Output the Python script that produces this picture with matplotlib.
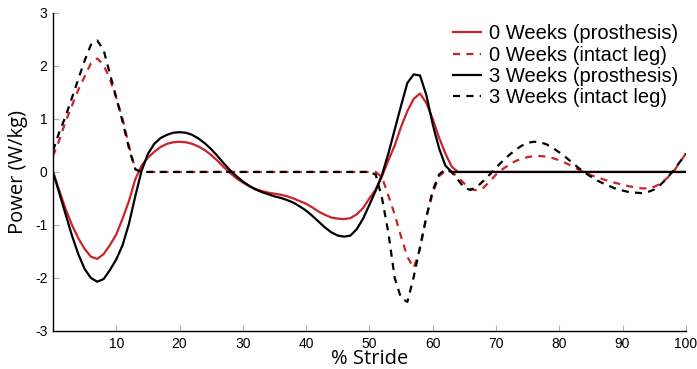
import matplotlib
matplotlib.use("Agg")
import matplotlib.pyplot as plt

stride = list(range(0, 101))

w0_prosthesis = [0, -0.35, -0.7, -1.0, -1.25, -1.45, -1.6, -1.64, -1.55, -1.38,
                 -1.18, -0.88, -0.55, -0.14, 0.12, 0.27, 0.38, 0.47, 0.53, 0.56,
                 0.57, 0.56, 0.53, 0.48, 0.41, 0.32, 0.21, 0.09, -0.02, -0.12,
                 -0.2, -0.27, -0.32, -0.36, -0.39, -0.41, -0.43, -0.46, -0.5, -0.55,
                 -0.6, -0.67, -0.75, -0.81, -0.86, -0.88, -0.89, -0.87, -0.8, -0.68,
                 -0.5, -0.33, -0.08, 0.22, 0.5, 0.85, 1.15, 1.38, 1.48, 1.3,
                 1.0, 0.65, 0.35, 0.1, 0.0] + [0.0] * 36

w3_prosthesis = [0, -0.4, -0.8, -1.2, -1.55, -1.83, -2.0, -2.07, -2.02, -1.85,
                 -1.65, -1.38, -0.98, -0.46, 0.02, 0.34, 0.53, 0.64, 0.7, 0.74,
                 0.75, 0.74, 0.7, 0.63, 0.54, 0.43, 0.3, 0.16, 0.03, -0.08,
                 -0.18, -0.26, -0.33, -0.38, -0.42, -0.46, -0.49, -0.53, -0.58, -0.65,
                 -0.73, -0.83, -0.94, -1.05, -1.14, -1.2, -1.22, -1.2, -1.08, -0.88,
                 -0.62, -0.35, -0.05, 0.35, 0.8, 1.25, 1.68, 1.84, 1.82, 1.45,
                 0.9, 0.45, 0.12, 0.0] + [0.0] * 37

w0_intact = [0.3, 0.6, 0.95, 1.25, 1.55, 1.8, 2.05, 2.14, 2.02, 1.75,
             1.4, 1.0, 0.5, 0.05] + [0.0] * 38 + \
            [-0.1, -0.45, -0.8, -1.22, -1.6, -1.81, -1.45, -0.85, -0.4, -0.08,
             0.02, 0.0, -0.1, -0.22, -0.32, -0.35, -0.3, -0.18, -0.05, 0.05,
             0.13, 0.2, 0.25, 0.28, 0.3, 0.3, 0.29, 0.26, 0.22, 0.17,
             0.11, 0.05, -0.01, -0.06, -0.1, -0.14, -0.18, -0.21, -0.24, -0.27,
             -0.29, -0.31, -0.31, -0.28, -0.22, -0.12, 0.0, 0.17, 0.35]

w3_intact = [0.4, 0.75, 1.05, 1.4, 1.75, 2.1, 2.4, 2.48, 2.3, 1.85,
             1.4, 0.95, 0.45, 0.05] + [0.0] * 37 + \
            [-0.05, -0.5, -1.15, -2.0, -2.38, -2.45, -1.98, -1.41, -0.85, -0.35,
             -0.05, 0.05, 0.0, -0.15, -0.3, -0.34, -0.28, -0.17, -0.05, 0.08,
             0.2, 0.31, 0.41, 0.49, 0.55, 0.57, 0.56, 0.52, 0.45, 0.37,
             0.28, 0.18, 0.08, -0.01, -0.09, -0.16, -0.22, -0.27, -0.32, -0.35,
             -0.38, -0.39, -0.4, -0.38, -0.33, -0.24, -0.12, 0.02, 0.18, 0.35]

labels = ["0 Weeks (prosthesis)", "0 Weeks (intact leg)",
          "3 Weeks (prosthesis)", "3 Weeks (intact leg)"]
x_ticks = [10, 20, 30, 40, 50, 60, 70, 80, 90, 100]
y_ticks = [-3, -2, -1, 0, 1, 2, 3]

RED = "#CC2229"
BLACK = "#000000"

fig = plt.figure(figsize=(6.97, 3.69), dpi=100)
ax = fig.add_axes([0.076, 0.103, 0.908, 0.862])

lw = 1.6
dash = (0, (3.2, 2.8))
ax.plot(stride, w0_prosthesis, color=RED, lw=lw, label=labels[0])
ax.plot(stride, w0_intact, color=RED, lw=lw, ls=dash, label=labels[1])
ax.plot(stride, w3_prosthesis, color=BLACK, lw=lw, label=labels[2])
ax.plot(stride, w3_intact, color=BLACK, lw=lw, ls=dash, label=labels[3])

ax.set_xlim(0, 100)
ax.set_ylim(-3, 3)
ax.set_xticks(x_ticks)
ax.set_yticks(y_ticks)
tick_font = dict(family="Liberation Sans", size=10)
ax.set_xticklabels([str(t) for t in x_ticks], **tick_font)
ax.set_yticklabels([str(t) for t in y_ticks], **tick_font)
ax.tick_params(direction="in", length=4, width=0.8, color="#b0b0b0", pad=4)
for s in ["top", "right"]:
    ax.spines[s].set_visible(False)
for s in ["left", "bottom"]:
    ax.spines[s].set_linewidth(1.0)

ax.set_xlabel("% Stride", family="Open Sans", fontsize=14.5, labelpad=-1)
ax.set_ylabel("Power (W/kg)", family="Open Sans", fontsize=14.5, labelpad=5)

leg = ax.legend(loc="upper right", bbox_to_anchor=(1.0, 0.99), frameon=False,
                prop=dict(family="Liberation Sans", size=14.5),
                handlelength=1.4, handletextpad=0.35, labelspacing=0.12,
                borderaxespad=0.2, borderpad=0.2)

fig.savefig("out.png", dpi=100)
